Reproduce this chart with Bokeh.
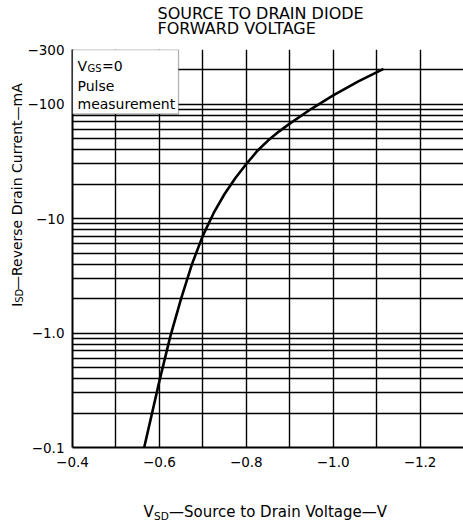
import math
from bokeh.plotting import figure
from bokeh.models import Range1d, FixedTicker, Label, BoxAnnotation
from bokeh.layouts import column, row
from bokeh.embed import file_html
from bokeh.resources import INLINE

# ---- data ----
v_sd = [-0.565, -0.600, -0.625, -0.650, -0.675, -0.700, -0.725, -0.750, -0.775,
        -0.800, -0.825, -0.850, -0.875, -0.900, -0.950, -1.000, -1.058, -1.116]
i_sd = [0.1, 0.38, 0.93, 2.0, 4.0, 7.1, 11.2, 16.4, 22.6,
        30.0, 38.9, 48.0, 57.5, 67.5, 91.0, 119.0, 158.0, 203.0]

x_ticks = [-0.4, -0.6, -0.8, -1.0, -1.2]
x_tick_labels = ["\u22120.4", "\u22120.6", "\u22120.8", "\u22121.0", "\u22121.2"]
x_grid = [-0.5, -0.6, -0.7, -0.8, -0.9, -1.0, -1.1, -1.2]
y_ticks = [0.1, 1.0, 10, 100, 300]
y_tick_labels = ["\u22120.1", "\u22121.0", "\u221210", "\u2212100", "\u2212300"]
y_grid = [0.2, 0.3, 0.4, 0.5, 0.6, 0.7, 0.8, 0.9, 1, 2, 3, 4, 5, 6, 7, 8, 9,
          10, 20, 30, 40, 50, 60, 70, 80, 90, 100, 200, 300]

title_lines = ["SOURCE TO DRAIN DIODE", "FORWARD VOLTAGE"]
legend_lines = ["Pulse", "measurement"]

FONT = "DejaVu Sans"
W, H = 463, 525
TOP_H, BOT_H, LEFT_W = 40, 35, 24
MAIN_W, MAIN_H = W - LEFT_W, H - TOP_H - BOT_H


def text_fig(w, h):
    f = figure(width=w, height=h, x_range=Range1d(0, w), y_range=Range1d(0, h),
               min_border=0, toolbar_location=None, output_backend="svg",
               x_axis_location=None, y_axis_location=None)
    f.outline_line_color = None
    f.xgrid.visible = False
    f.ygrid.visible = False
    f.background_fill_color = "white"
    f.border_fill_color = "white"
    return f


def lab(f, text, x, y, size, units="data", angle=0, style="normal"):
    f.add_layout(Label(x=x, y=y, x_units=units, y_units=units, text=text,
                       text_font=FONT, text_font_size=size, text_color="black",
                       text_align="left", text_baseline="middle", angle=angle,
                       text_font_style=style))


# ---- main plot ----
p = figure(width=MAIN_W, height=MAIN_H, y_axis_type="log",
           x_range=Range1d(-0.4, -1.3), y_range=Range1d(0.1, 300),
           output_backend="svg", toolbar_location=None,
           min_border_left=48, min_border_right=0,
           min_border_top=9, min_border_bottom=43)
p.outline_line_color = None
p.background_fill_color = "white"
p.border_fill_color = "white"

p.xaxis.ticker = FixedTicker(ticks=x_ticks)
p.xaxis.major_label_overrides = dict(zip(x_ticks, x_tick_labels))
p.yaxis.ticker = FixedTicker(ticks=y_ticks)
p.yaxis.major_label_overrides = dict(zip(y_ticks, y_tick_labels))
for ax in (p.xaxis[0], p.yaxis[0]):
    ax.major_tick_in = 0
    ax.major_tick_out = 0
    ax.minor_tick_in = 0
    ax.minor_tick_out = 0
    ax.axis_line_color = "black"
    ax.axis_line_width = 2
    ax.major_label_text_font = FONT
    ax.major_label_text_font_size = "13.5px"
    ax.major_label_text_color = "black"
p.xaxis.major_label_standoff = 9
p.yaxis.major_label_standoff = 8

p.xgrid.ticker = FixedTicker(ticks=x_grid)
p.ygrid.ticker = FixedTicker(ticks=y_grid)
for g in (p.xgrid[0], p.ygrid[0]):
    g.grid_line_color = "black"
    g.grid_line_width = 1.4
    g.grid_line_alpha = 1.0

p.line(v_sd, i_sd, line_color="black", line_width=2.6)

# legend box (covers the grid in the top-left corner)
p.add_layout(BoxAnnotation(left=-0.4, right=-0.644, top=300, bottom=82,
                           fill_color="white", fill_alpha=1.0,
                           line_color="black", line_width=1.3))
lab(p, "V", 5, 382, "14px", units="screen")
lab(p, "GS", 15, 379, "10px", units="screen")
lab(p, "=0", 29.5, 382, "14px", units="screen")
lab(p, legend_lines[0], 5, 362, "14px", units="screen")
lab(p, legend_lines[1], 5, 344, "14px", units="screen")

# ---- title strip ----
top = text_fig(W, TOP_H)
lab(top, title_lines[0], 157, 27, "16px")
lab(top, title_lines[1], 157, 12, "16px")

# ---- y label strip (rotated) ----
left = text_fig(LEFT_W, MAIN_H)
lab(left, "I", 16, 159, "14px", angle=math.pi / 2)
lab(left, "SD", 19, 163.6, "10px", angle=math.pi / 2)
lab(left, "\u2014Reverse Drain Current\u2014mA", 16, 178, "14px", angle=math.pi / 2)

# ---- x label strip ----
bot = text_fig(W, BOT_H)
lab(bot, "V", 143, 14, "15px")
lab(bot, "SD", 153.5, 10, "10.5px")
lab(bot, "\u2014Source to Drain Voltage\u2014V", 168.5, 14, "15px")

layout = column(top, row(left, p), bot)
open("out.html", "w").write(file_html(layout, INLINE))
